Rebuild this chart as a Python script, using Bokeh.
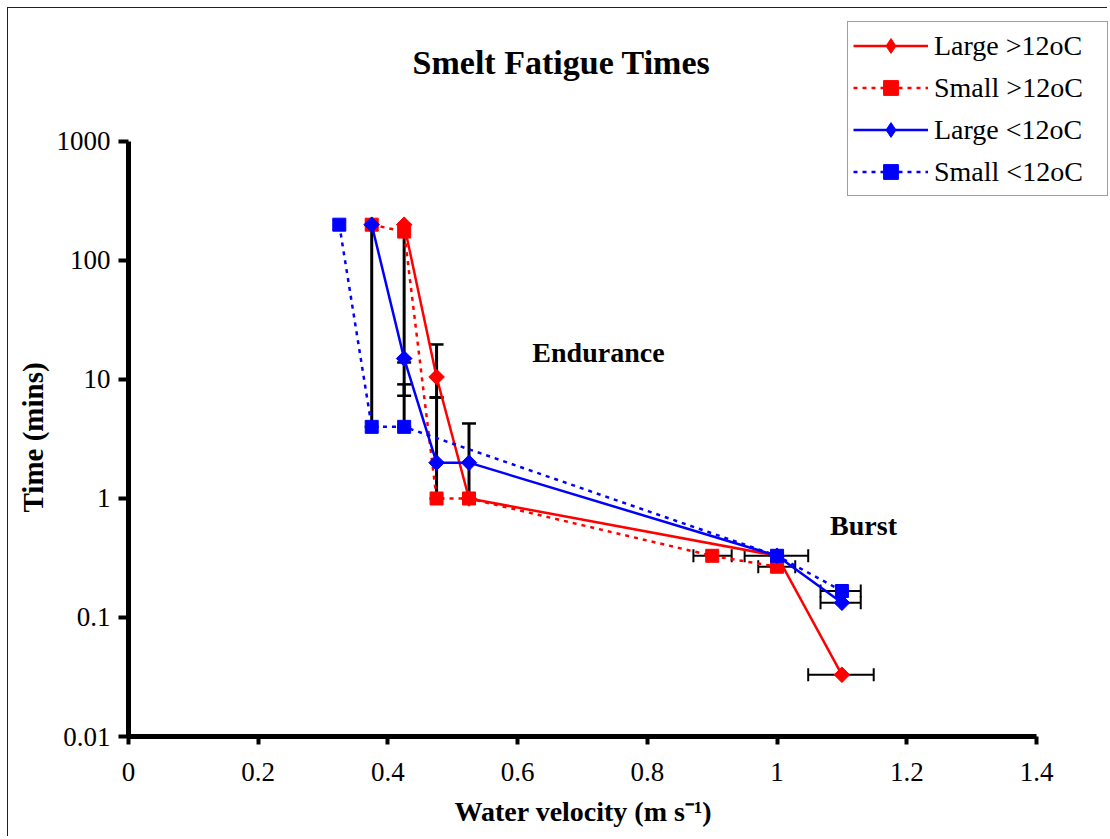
import numpy as np
from bokeh.plotting import figure
from bokeh.models import (Range1d, FixedTicker, CustomJSTickFormatter, Legend, LegendItem,
                          Label, Whisker, ColumnDataSource, TeeHead, Title)
from bokeh.embed import file_html
from bokeh.resources import INLINE

# ---- data ----
series_names = ["Large >12oC", "Small >12oC", "Large <12oC", "Small <12oC"]

large_hot_x = [0.425, 0.475, 0.525, 1.0, 1.1]
large_hot_y = [200, 10.5, 1.0, 0.33, 0.033]

small_hot_x = [0.375, 0.425, 0.475, 0.525, 0.9, 1.0]
small_hot_y = [200, 175, 1.0, 1.0, 0.33, 0.267]

large_cold_x = [0.375, 0.425, 0.475, 0.525, 1.0, 1.1]
large_cold_y = [200, 15, 2.0, 2.0, 0.33, 0.133]

small_cold_x = [0.325, 0.375, 0.425, 1.0, 1.1]
small_cold_y = [200, 4.0, 4.0, 0.33, 0.167]

# vertical error bars (time)
vbar_x = [0.375, 0.425, 0.425, 0.425, 0.475, 0.475, 0.525]
vbar_lo = [4.0, 13.9, 4.0, 7.3, 7.06, 1.0, 1.0]
vbar_hi = [200, 200, 9.1, 15, 19.7, 7.06, 4.27]

# horizontal error bars (velocity)
hbar_y = [0.33, 0.33, 0.267, 0.167, 0.133, 0.033]
hbar_lo = [0.871, 0.95, 0.971, 1.067, 1.067, 1.048]
hbar_hi = [0.930, 1.048, 1.028, 1.129, 1.129, 1.149]

x_ticks = [0, 0.2, 0.4, 0.6, 0.8, 1.0, 1.2, 1.4]
y_ticks = [0.01, 0.1, 1, 10, 100, 1000]
x_bounds = (0, 1.4)
y_bounds = (0.01, 1000)

title_text = "Smelt Fatigue Times"
x_label = "Water velocity (m s\u207b\u00b9)"
y_label = "Time (mins)"
annotations = [("Endurance", 0.7246, 16.9), ("Burst", 1.1333, 0.593)]
title_pos = (0.6676, 4613)

FONT = "Liberation Serif"

p = figure(width=1100, height=829, output_backend="svg", toolbar_location=None,
           x_range=Range1d(0, 1.5110), y_range=Range1d(0.01, 12134), y_axis_type="log",
           min_border_left=120, min_border_right=0, min_border_top=4, min_border_bottom=101)
p.styles = {"margin-left": "7px", "margin-top": "7px",
            "border-top": "1px solid #222222", "border-left": "1px solid #222222"}
p.outline_line_color = None
p.xgrid.visible = False
p.ygrid.visible = False
p.background_fill_color = "white"
p.border_fill_color = "white"

for ax in (p.xaxis[0], p.yaxis[0]):
    ax.axis_line_width = 5
    ax.axis_line_color = "black"
    ax.major_tick_line_width = 4
    ax.major_tick_line_color = "black"
    ax.major_tick_in = 0
    ax.minor_tick_line_color = None
    ax.major_label_text_font = FONT
    ax.major_label_text_font_size = "27px"
    ax.major_label_text_color = "black"

p.xaxis[0].bounds = x_bounds
p.xaxis[0].ticker = FixedTicker(ticks=x_ticks)
p.xaxis[0].formatter = CustomJSTickFormatter(code="return (Math.round(tick*10)/10).toString();")
p.xaxis[0].major_tick_out = 8
p.xaxis[0].major_label_standoff = 18

p.yaxis[0].bounds = y_bounds
p.yaxis[0].ticker = FixedTicker(ticks=y_ticks)
p.yaxis[0].formatter = CustomJSTickFormatter(code="return tick.toString();")
p.yaxis[0].major_tick_out = 10
p.yaxis[0].major_label_standoff = 8

# axis titles placed as side-panel titles so they centre on the axis extent
xt = Title(text=x_label, align="left", offset=326, text_font=FONT, text_font_size="28px",
           text_font_style="bold", text_color="black", standoff=20)
yt = Title(text=y_label, align="left", offset=224, text_font=FONT, text_font_size="29px",
           text_font_style="bold", text_color="black", standoff=9)
p.add_layout(xt, "below")
p.add_layout(yt, "left")

# error bars
vsrc = ColumnDataSource(dict(x=vbar_x, lo=vbar_lo, hi=vbar_hi))
hsrc = ColumnDataSource(dict(y=hbar_y, lo=hbar_lo, hi=hbar_hi))
vw = Whisker(base="x", lower="lo", upper="hi", dimension="height", source=vsrc,
             line_width=3, line_color="black", level="underlay",
             upper_head=TeeHead(size=14, line_width=2.5, line_color="black"),
             lower_head=TeeHead(size=14, line_width=2.5, line_color="black"))
hw = Whisker(base="y", lower="lo", upper="hi", dimension="width", source=hsrc,
             line_width=2, line_color="black", level="underlay",
             upper_head=TeeHead(size=13, line_width=2, line_color="black"),
             lower_head=TeeHead(size=13, line_width=2, line_color="black"))
p.add_layout(vw)
p.add_layout(hw)

specs = [
    (large_hot_x, large_hot_y, "#ff0000", "solid", "diamond"),
    (small_hot_x, small_hot_y, "#ff0000", "4 5", "square"),
    (large_cold_x, large_cold_y, "#0000ff", "solid", "diamond"),
    (small_cold_x, small_cold_y, "#0000ff", "4 5", "square"),
]
items = []
for name, (xs, ys, col, dash, mk) in zip(series_names, specs):
    src = ColumnDataSource(dict(x=xs, y=ys))
    lr = p.line("x", "y", source=src, line_color=col, line_width=2.5, line_dash=dash)
    if mk == "diamond":
        # diamond glyph (used for the legend swatch), covered by the rotated square below
        lg = p.scatter("x", "y", source=src, marker="diamond", size=14,
                       fill_color=col, line_color=col)
        p.scatter("x", "y", source=src, marker="square", angle=np.pi / 4, size=11,
                  fill_color=col, line_color=col)
        items.append(LegendItem(label=name, renderers=[lr, lg]))
    else:
        sr = p.scatter("x", "y", source=src, marker="square", size=13,
                       fill_color=col, line_color=col)
        items.append(LegendItem(label=name, renderers=[lr, sr]))

legend = Legend(items=items, location=(719, 540), padding=5, spacing=5, margin=0,
                glyph_width=75, glyph_height=37, label_height=37, label_standoff=6,
                label_width=168,
                label_text_font=FONT, label_text_font_size="28px", label_text_color="black",
                border_line_color="#404040", border_line_width=1.5,
                background_fill_color="white", background_fill_alpha=1.0)
p.add_layout(legend)

p.add_layout(Label(x=title_pos[0], y=title_pos[1], text=title_text, text_font=FONT,
                   text_font_size="34px", text_font_style="bold", text_align="center",
                   text_baseline="middle", text_color="black"))
for txt, ax_, ay_ in annotations:
    p.add_layout(Label(x=ax_, y=ay_, text=txt, text_font=FONT, text_font_size="28px",
                       text_font_style="bold", text_align="center", text_baseline="middle",
                       text_color="black"))

open("out.html", "w").write(file_html(p, INLINE))
